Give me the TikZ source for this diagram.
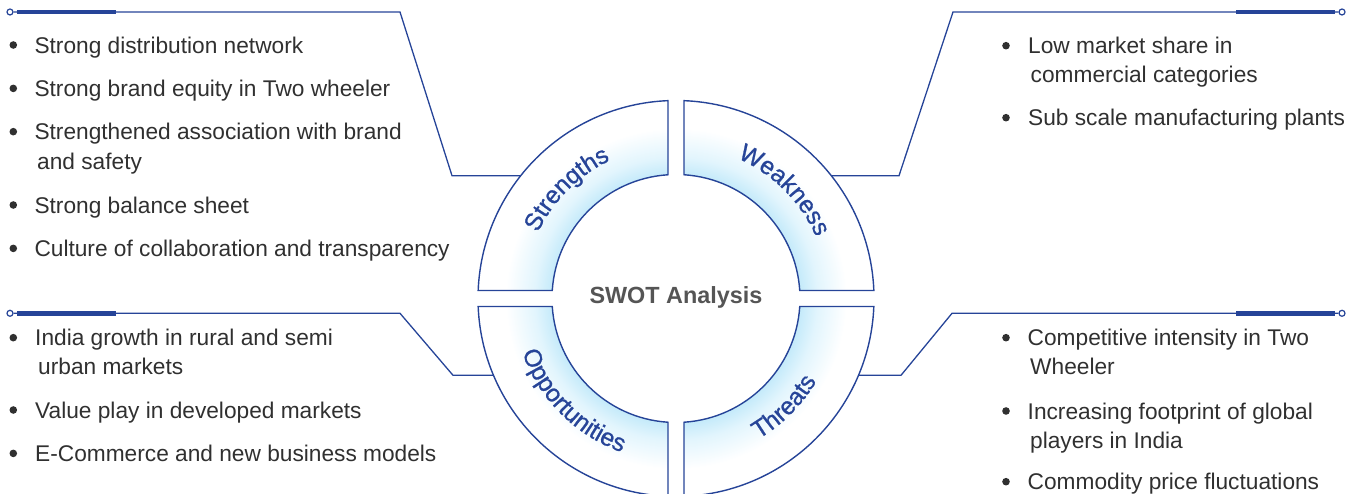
\documentclass[tikz,border=0pt]{standalone}
\usepackage{fontspec}
\setmainfont{Liberation Sans}
\newfontfamily\swmedfont[FakeBold=0.9]{Liberation Sans}
\usetikzlibrary{decorations.text}
\definecolor{swblue}{RGB}{38,68,152}
\definecolor{swtext}{RGB}{48,48,48}
\definecolor{swgray}{RGB}{85,85,85}
\definecolor{swglow}{RGB}{196,234,250}
\definecolor{swglowmid}{RGB}{226,245,253}
\pgfdeclareradialshading{swglowshade}{\pgfpointorigin}{color(0bp)=(swglow); color(123.4bp)=(swglow); color(141bp)=(swglowmid); color(170bp)=(white); color(200bp)=(white)}
\tikzset{
  ringline/.style={draw=swblue, line width=1.4pt},
  swconn/.style={draw=swblue, line width=1.3pt},
  swthick/.style={draw=swblue, line width=4.5pt},
  swdot/.style={circle, draw=swblue, fill=white, inner sep=0pt, minimum size=6pt, line width=1.2pt},
  swbullet/.style={circle, fill=swtext, inner sep=0pt, minimum size=7.6pt},
  switem/.style={anchor=base west, inner sep=0pt, font=\fontsize{22.7}{29}\selectfont, text=swtext},
  swtitle/.style={anchor=base, inner sep=0pt, font=\bfseries\fontsize{23.4}{28}\selectfont, text=swgray},
  swglownode/.style={inner sep=0pt, outer sep=0pt},
}
\newcommand\swarcfont{\swmedfont\fontsize{24.5}{28}\selectfont\color{swblue}}
\begin{document}
\begin{tikzpicture}[x=1pt,y=1pt]
\useasboundingbox (0,0) rectangle (1359,494);
\coordinate (C) at (676,195.5);

% quadrants
\foreach \rot in {0,-90,90,180} {
  \begin{scope}[shift={(676,195.5)}, rotate=\rot]
    \begin{scope}
      \clip (-8,197.84) arc[start angle=92.316, end angle=177.684, radius=198]
        -- (-123.74,8) arc[start angle=176.297, end angle=93.703, radius=124] -- cycle;
      \node[swglownode] (glow\rot) at (0,0) {\pgfuseshading{swglowshade}};
    \end{scope}
    \draw[ringline] (-8,197.84) arc[start angle=92.316, end angle=177.684, radius=198]
        -- (-123.74,8) arc[start angle=176.297, end angle=93.703, radius=124] -- cycle;
  \end{scope}
}

% arc labels
\path[decorate, decoration={text along path, text align=center, text={|\swarcfont|Strengths}}]
  (523,195.5) arc[start angle=180, end angle=90, radius=153];
\path[decorate, decoration={text along path, text align=center, text={|\swarcfont|Weakness}}]
  (676,348.5) arc[start angle=90, end angle=0, radius=153];
\path[decorate, decoration={text along path, text align=center, text={|\swarcfont|Opportunities}}]
  (513,195.5) arc[start angle=180, end angle=270, radius=163];
\path[decorate, decoration={text along path, text align=center, text={|\swarcfont|Threats}}]
  (676,32.5) arc[start angle=270, end angle=360, radius=163];

\node[swtitle] (title) at (676,190.7) {SWOT Analysis};

% connectors
\coordinate (tlA) at (400,482);
\coordinate (tlB) at (452,318.3);
\coordinate (tlE) at (520.7,318.3);
\coordinate (tlT1) at (17,482);
\coordinate (tlT2) at (116,482);
\node[swdot] (tl0) at (10,482) {};
\draw[swconn] (tl0) -- (tlA) -- (tlB) -- (tlE);
\draw[swthick] (tlT1) -- (tlT2);

\coordinate (trA) at (953,482);
\coordinate (trB) at (899,318.3);
\coordinate (trE) at (831.3,318.3);
\coordinate (trT1) at (1236,482);
\coordinate (trT2) at (1335,482);
\node[swdot] (tr0) at (1342,482) {};
\draw[swconn] (tr0) -- (trA) -- (trB) -- (trE);
\draw[swthick] (trT1) -- (trT2);

\coordinate (blA) at (400,180.7);
\coordinate (blB) at (453,118.7);
\coordinate (blE) at (493.5,118.7);
\coordinate (blT1) at (17,180.7);
\coordinate (blT2) at (116,180.7);
\node[swdot] (bl0) at (10,180.7) {};
\draw[swconn] (bl0) -- (blA) -- (blB) -- (blE);
\draw[swthick] (blT1) -- (blT2);

\coordinate (brA) at (952,180.7);
\coordinate (brB) at (901,118.7);
\coordinate (brE) at (858.5,118.7);
\coordinate (brT1) at (1236,180.7);
\coordinate (brT2) at (1335,180.7);
\node[swdot] (br0) at (1342,180.7) {};
\draw[swconn] (br0) -- (brA) -- (brB) -- (brE);
\draw[swthick] (brT1) -- (brT2);

% Strengths list
\node[swbullet] (sb1) at (13.3,449) {};
\node[switem] (s1) at (34.3,440.7) {Strong distribution network};
\node[swbullet] (sb2) at (13.3,405.6) {};
\node[switem] (s2) at (34.3,397.3) {Strong brand equity in Two wheeler};
\node[swbullet] (sb3) at (13.3,362.3) {};
\node[switem] (s3a) at (34.3,354) {Strengthened association with brand};
\node[switem] (s3b) at (37,324.7) {and safety};
\node[swbullet] (sb4) at (13.3,289) {};
\node[switem] (s4) at (34.3,280.7) {Strong balance sheet};
\node[swbullet] (sb5) at (13.3,245.6) {};
\node[switem] (s5) at (34.3,237.3) {Culture of collaboration and transparency};

% Weakness list
\node[swbullet] (wb1) at (1006,448.3) {};
\node[switem] (w1a) at (1028,440) {Low market share in};
\node[switem] (w1b) at (1030.5,411) {commercial categories};
\node[swbullet] (wb2) at (1006,376.3) {};
\node[switem] (w2) at (1028,368) {Sub scale manufacturing plants};

% Opportunities list
\node[swbullet] (ob1) at (13.3,156.3) {};
\node[switem] (o1a) at (35,148) {India growth in rural and semi};
\node[switem] (o1b) at (38,119) {urban markets};
\node[swbullet] (ob2) at (13.3,84) {};
\node[switem] (o2) at (35,75.7) {Value play in developed markets};
\node[swbullet] (ob3) at (13.3,40.6) {};
\node[switem] (o3) at (35,32.3) {E-Commerce and new business models};

% Threats list
\node[swbullet] (tb1) at (1006,156.3) {};
\node[switem] (t1a) at (1027.5,148) {Competitive intensity in Two};
\node[switem] (t1b) at (1030,119) {Wheeler};
\node[swbullet] (tb2) at (1006,83) {};
\node[switem] (t2a) at (1027.5,74.7) {Increasing footprint of global};
\node[switem] (t2b) at (1030,45.7) {players in India};
\node[swbullet] (tb3) at (1006,12.3) {};
\node[switem] (t3) at (1027.5,4) {Commodity price fluctuations};
\end{tikzpicture}
\end{document}
